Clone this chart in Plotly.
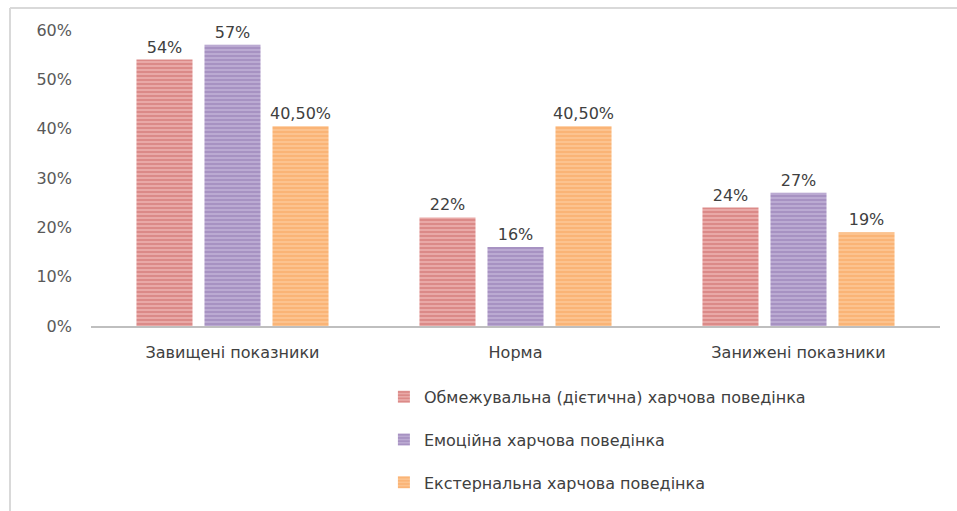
import plotly.graph_objects as go

categories = ["Завищені показники", "Норма", "Занижені показники"]
series_names = [
    "Обмежувальна (дієтична) харчова поведінка",
    "Емоційна харчова поведінка",
    "Екстернальна харчова поведінка",
]
restrictive = [0.54, 0.22, 0.24]
emotional = [0.57, 0.16, 0.27]
external = [0.405, 0.405, 0.19]
restrictive_labels = ["54%", "22%", "24%"]
emotional_labels = ["57%", "16%", "27%"]
external_labels = ["40,50%", "40,50%", "19%"]
y_tick_vals = [0, 0.1, 0.2, 0.3, 0.4, 0.5, 0.6]
y_tick_text = ["0%", "10%", "20%", "30%", "40%", "50%", "60%"]

base_colors = ["#E9A9A7", "#BBAAD2", "#FCC38F"]
line_colors = ["#C0504D", "#8064A2", "#F79646"]
FONT = "DejaVu Sans"
FS = 16

fig = go.Figure()
for i, (name, vals, labels) in enumerate(zip(
        series_names,
        [restrictive, emotional, external],
        [restrictive_labels, emotional_labels, external_labels])):
    fig.add_trace(go.Bar(
        x=categories, y=vals, name=name, text=labels,
        textposition="outside", cliponaxis=False, constraintext="none",
        textfont=dict(family=FONT, size=FS, color="#404040"),
        legendgroup=f"g{i}",
        marker=dict(
            color=base_colors[i],
            line=dict(width=0),
            pattern=dict(shape="-", fgcolor=line_colors[i], size=4,
                          solidity=0.35, fillmode="overlay"),
        ),
    ))

fig.update_layout(
    width=957, height=511,
    paper_bgcolor="white", plot_bgcolor="white",
    margin=dict(l=91, r=17, t=30, b=185, autoexpand=False),
    barmode="group", bargap=0.279, bargroupgap=0.176,
    font=dict(family=FONT, size=FS, color="#595959"),
    showlegend=True,
    legend=dict(
        x=0.345, xanchor="left", y=-0.182, yanchor="top",
        orientation="v", tracegroupgap=19,
        font=dict(family=FONT, size=FS, color="#404040"),
        itemwidth=30,
    ),
    xaxis=dict(
        showline=True, linecolor="#BFBFBF", linewidth=2,
        ticks="", showgrid=False, ticklabelstandoff=11,
        tickfont=dict(family=FONT, size=FS, color="#404040"),
    ),
    yaxis=dict(
        range=[0, 0.6], tickvals=y_tick_vals, ticktext=y_tick_text,
        showgrid=False, zeroline=False, showline=False, ticks="",
        ticklabelstandoff=18,
        tickfont=dict(family=FONT, size=FS, color="#595959"),
    ),
    shapes=[
        dict(type="line", xref="paper", yref="paper",
             x0=-0.0954, x1=1.03, y0=1.0743, y1=1.0743,
             line=dict(color="#D9D9D9", width=2)),
        dict(type="line", xref="paper", yref="paper",
             x0=-0.0954, x1=-0.0954, y0=1.0743, y1=-0.7,
             line=dict(color="#D9D9D9", width=2)),
    ],
)

fig.write_html("out.html",
               config={"displayModeBar": False},
               post_script="document.body.style.margin='0';document.body.style.overflow='hidden';")
